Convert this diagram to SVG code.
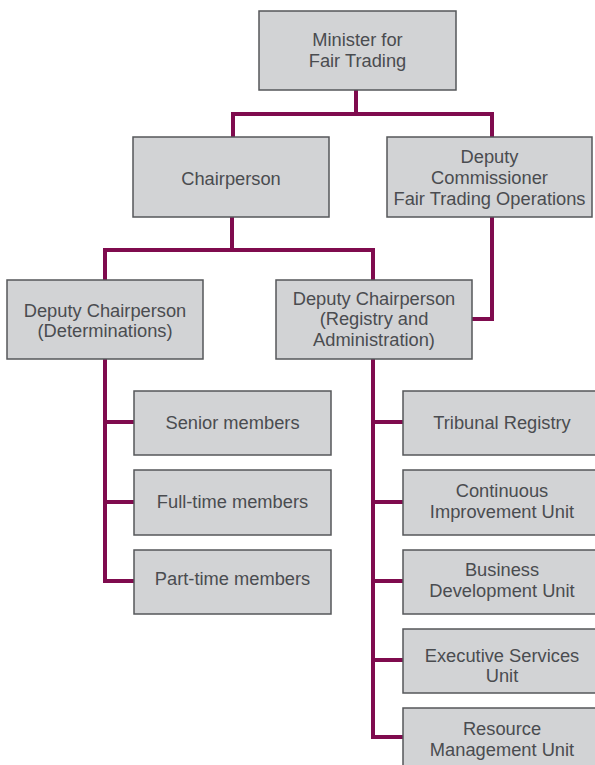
<svg xmlns="http://www.w3.org/2000/svg" width="595" height="765" viewBox="0 0 595 765">
<style>
.box{fill:#d2d3d5;stroke:#55575a;stroke-width:1.5}
.t{font-family:"Liberation Sans",Arial,sans-serif;font-size:18.3px;fill:#4a4c50;text-anchor:middle}
.c{fill:none;stroke:#7f0b4e;stroke-width:4;stroke-linejoin:miter;stroke-linecap:square}
</style>
<rect width="595" height="765" fill="#ffffff"/>
<g id="connectors">
<polyline class="c" points="356,90 356,114"/>
<polyline class="c" points="233,137 233,114 492,114 492,137"/>
<polyline class="c" points="232,217 232,250"/>
<polyline class="c" points="105,280 105,250 373,250 373,280"/>
<polyline class="c" points="492,217 492,319 474,319"/>
<polyline class="c" points="105,359 105,581 133,581"/>
<polyline class="c" points="105,422 133,422"/>
<polyline class="c" points="105,502 133,502"/>
<polyline class="c" points="373,359 373,737 402,737"/>
<polyline class="c" points="373,422 402,422"/>
<polyline class="c" points="373,502 402,502"/>
<polyline class="c" points="373,581 402,581"/>
<polyline class="c" points="373,660 402,660"/>
</g>
<g id="minister"><rect class="box" x="259" y="11" width="197" height="79"/><text class="t" x="357.5" y="46">Minister for</text><text class="t" x="357.5" y="67">Fair Trading</text></g>
<g id="chairperson"><rect class="box" x="133" y="137" width="196" height="80"/><text class="t" x="231" y="185">Chairperson</text></g>
<g id="deputy-commissioner"><rect class="box" x="387" y="137" width="205" height="80"/><text class="t" x="489.5" y="163">Deputy</text><text class="t" x="489.5" y="184">Commissioner</text><text class="t" x="489.5" y="204.5">Fair Trading Operations</text></g>
<g id="dc-determinations"><rect class="box" x="7" y="280" width="196" height="79"/><text class="t" x="105" y="316.5">Deputy Chairperson</text><text class="t" x="105" y="337">(Determinations)</text></g>
<g id="dc-registry"><rect class="box" x="276" y="280" width="196" height="79"/><text class="t" x="374" y="304.5">Deputy Chairperson</text><text class="t" x="374" y="325">(Registry and</text><text class="t" x="374" y="345.5">Administration)</text></g>
<g id="senior"><rect class="box" x="134" y="391" width="197" height="64"/><text class="t" x="232.5" y="428.5">Senior members</text></g>
<g id="fulltime"><rect class="box" x="134" y="470" width="197" height="65"/><text class="t" x="232.5" y="507.5">Full-time members</text></g>
<g id="parttime"><rect class="box" x="134" y="550" width="197" height="64"/><text class="t" x="232.5" y="585">Part-time members</text></g>
<g id="tribunal"><rect class="box" x="403" y="391" width="198" height="64"/><text class="t" x="502" y="428.5">Tribunal Registry</text></g>
<g id="continuous"><rect class="box" x="403" y="470" width="198" height="65"/><text class="t" x="502" y="497">Continuous</text><text class="t" x="502" y="517.5">Improvement Unit</text></g>
<g id="business"><rect class="box" x="403" y="550" width="198" height="64"/><text class="t" x="502" y="576">Business</text><text class="t" x="502" y="597">Development Unit</text></g>
<g id="executive"><rect class="box" x="403" y="629" width="198" height="64"/><text class="t" x="502" y="661.5">Executive Services</text><text class="t" x="502" y="682">Unit</text></g>
<g id="resource"><rect class="box" x="403" y="708" width="198" height="64"/><text class="t" x="502" y="735">Resource</text><text class="t" x="502" y="756">Management Unit</text></g>
</svg>
